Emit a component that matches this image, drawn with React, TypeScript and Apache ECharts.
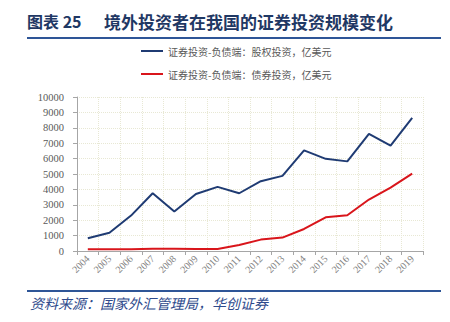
import React, { useEffect, useRef } from "react";
import * as echarts from "echarts";

const years = ["2004","2005","2006","2007","2008","2009","2010","2011","2012","2013","2014","2015","2016","2017","2018","2019"];
const equity = [830, 1190, 2300, 3750, 2560, 3700, 4165, 3750, 4530, 4880, 6530, 5985, 5820, 7610, 6850, 8650];
const bonds = [110, 110, 110, 140, 140, 130, 130, 390, 740, 870, 1430, 2190, 2320, 3340, 4120, 5030];
const seriesNames = ["证券投资-负债端：股权投资，亿美元", "证券投资-负债端：债券投资，亿美元"];
const titleLabel = "图表 25";
const titleText = "境外投资者在我国的证券投资规模变化";
const sourceText = "资料来源：国家外汇管理局，华创证券";

export default function App() {
  const ref = useRef<HTMLDivElement>(null);
  useEffect(() => {
    const chart = echarts.init(ref.current!, undefined, { renderer: "svg" });
    const navy = "#1F3864";
    chart.setOption({
      animation: false,
      backgroundColor: "#fff",
      graphic: [
        { type: "text", left: 27, top: 13, style: { text: titleLabel, fill: navy, font: "bold 16px 'Noto Sans CJK SC'" } },
        { type: "text", left: 104, top: 13, style: { text: titleText, fill: navy, font: "bold 17px 'Noto Sans CJK SC'" } },
        { type: "rect", shape: { x: 27, y: 37, width: 414, height: 2 }, style: { fill: "#2E5597" } },
        { type: "rect", shape: { x: 27, y: 290, width: 414, height: 2 }, style: { fill: "#2E5597" } },
        { type: "text", left: 30, top: 296, style: { text: sourceText, fill: "#2E4A8C", font: "italic 14px 'Noto Sans CJK SC'" } },
      ],
      legend: {
        orient: "vertical",
        left: 136,
        top: 39,
        itemWidth: 22,
        itemHeight: 2,
        itemGap: 9,
        icon: "rect",
        textStyle: { color: "#595959", fontSize: 10, lineHeight: 14, fontFamily: "'Noto Sans CJK SC'" },
        data: seriesNames,
      },
      grid: { left: 77, right: 27, top: 97, height: 154 },
      xAxis: {
        type: "category",
        data: years,
        boundaryGap: true,
        axisLine: { lineStyle: { color: "#a6a6a6" } },
        axisTick: { show: true, length: 4, lineStyle: { color: "#a6a6a6" } },
        axisLabel: { rotate: 45, color: "#7f7f7f", fontSize: 10, fontFamily: "'Liberation Serif'", margin: 6 },
        splitLine: { show: true, lineStyle: { color: "#e8e8d4", type: "dotted" } },
      },
      yAxis: {
        type: "value",
        min: 0,
        max: 10000,
        interval: 1000,
        axisLine: { show: true, lineStyle: { color: "#a6a6a6" } },
        axisTick: { show: true, length: 4, lineStyle: { color: "#a6a6a6" } },
        axisLabel: { color: "#595959", fontSize: 10.5, fontFamily: "'Liberation Serif'", margin: 13, formatter: (v: number) => String(v) },
        splitLine: { show: true, lineStyle: { color: "#e8e8d4", type: "dotted" } },
      },
      series: [
        { name: seriesNames[0], type: "line", data: equity, symbol: "none", lineStyle: { color: "#1F3B73", width: 2 }, itemStyle: { color: "#1F3B73" } },
        { name: seriesNames[1], type: "line", data: bonds, symbol: "none", lineStyle: { color: "#D9151B", width: 2 }, itemStyle: { color: "#D9151B" } },
      ],
    });
    return () => chart.dispose();
  }, []);
  return <div ref={ref} style={{ width: 450, height: 322, position: "absolute", left: 0, top: 0 }} />;
}
